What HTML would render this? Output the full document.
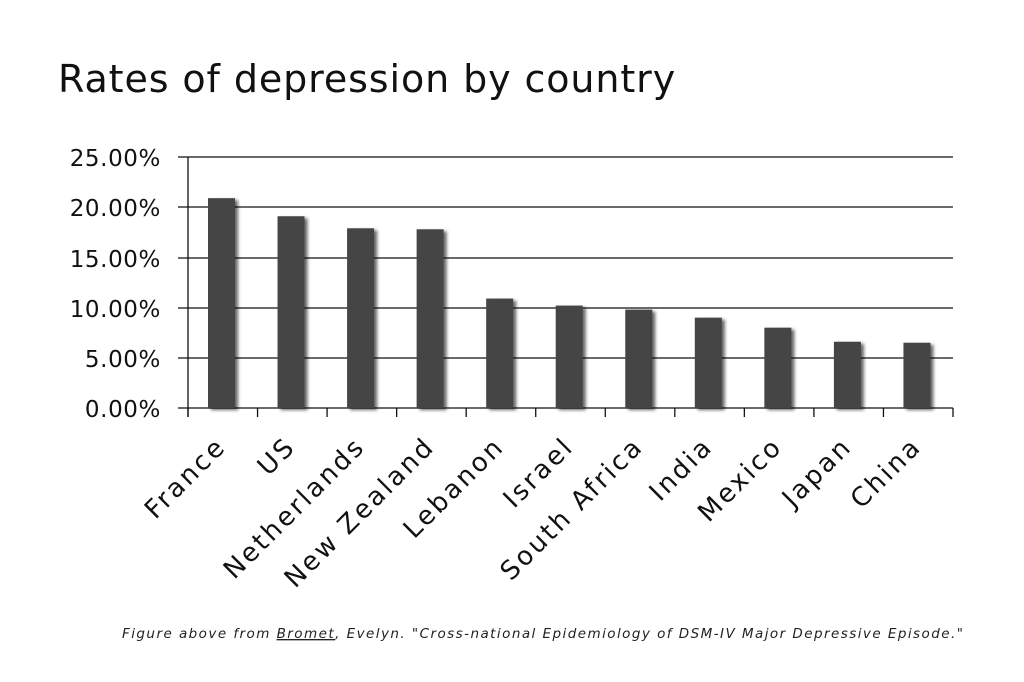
<!DOCTYPE html>
<html><head><style>body{margin:0;background:#fff}</style></head><body>
<svg width="1024" height="677" xmlns="http://www.w3.org/2000/svg" font-family="'DejaVu Sans','Liberation Sans',sans-serif">
<defs><filter id="sh" x="-20%" y="-5%" width="150%" height="110%"><feDropShadow dx="3" dy="2" stdDeviation="1.5" flood-color="#000" flood-opacity="0.6"/></filter></defs>
<text x="58" y="92" font-size="38" letter-spacing="0.9" fill="#111">Rates of depression by country</text>
<g stroke="#111" stroke-width="1.3">
<line x1="178" y1="157" x2="953" y2="157"/><line x1="178" y1="207" x2="953" y2="207"/><line x1="178" y1="258" x2="953" y2="258"/><line x1="178" y1="308" x2="953" y2="308"/><line x1="178" y1="358" x2="953" y2="358"/><line x1="178" y1="408" x2="953" y2="408"/>
<line x1="188" y1="157" x2="188" y2="417"/>
</g>
<g stroke="#111" stroke-width="1.3" id="ticks"></g>
<g font-size="23" fill="#111" text-anchor="end" letter-spacing="0.6">
<text x="161" y="166">25.00%</text><text x="161" y="216">20.00%</text><text x="161" y="267">15.00%</text><text x="161" y="317">10.00%</text><text x="161" y="367">5.00%</text><text x="161" y="417">0.00%</text>
</g>
<g id="bars" fill="#444" filter="url(#sh)"></g>
<g id="labs" font-size="26" fill="#111" text-anchor="end" letter-spacing="2.6"></g>
<text x="122" y="638" font-size="13.5" font-style="italic" letter-spacing="1.45" fill="#222">Figure above from <tspan text-decoration="underline">Bromet</tspan>, Evelyn. "Cross-national Epidemiology of DSM-IV Major Depressive Episode."</text>
<script>
var d=[["France",20.9],["US",19.1],["Netherlands",17.9],["New Zealand",17.8],["Lebanon",10.9],["Israel",10.2],["South Africa",9.8],["India",9.0],["Mexico",8.0],["Japan",6.6],["China",6.5]];
var ns="http://www.w3.org/2000/svg",w=(953-188)/11;
var b=document.getElementById("bars"),l=document.getElementById("labs"),t=document.getElementById("ticks");
for(var i=0;i<=11;i++){var x=188+i*w;var ln=document.createElementNS(ns,"line");ln.setAttribute("x1",x);ln.setAttribute("x2",x);ln.setAttribute("y1",408);ln.setAttribute("y2",417);t.appendChild(ln);}
d.forEach(function(e,i){var x0=188+i*w+20,h=e[1]*10.04;var r=document.createElementNS(ns,"rect");r.setAttribute("x",x0);r.setAttribute("y",408-h);r.setAttribute("width",27);r.setAttribute("height",h);b.appendChild(r);
var cx=x0+13.5+6,cy=448;var tx=document.createElementNS(ns,"text");tx.setAttribute("x",cx);tx.setAttribute("y",cy);tx.setAttribute("transform","rotate(-45 "+cx+" "+cy+")");tx.textContent=e[0];l.appendChild(tx);});
</script>
</svg>
</body></html>
